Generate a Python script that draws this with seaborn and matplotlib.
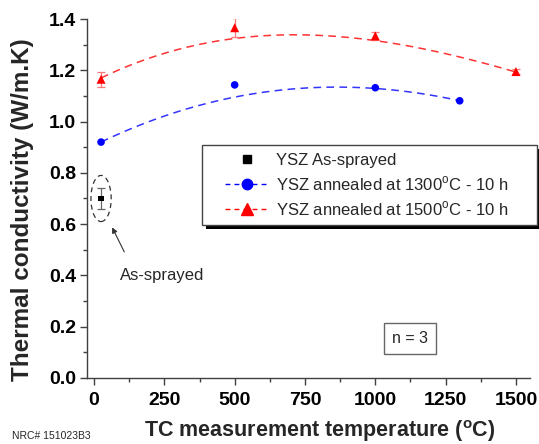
import numpy as np
import pandas as pd
import matplotlib
matplotlib.use("Agg")
import matplotlib.pyplot as plt
from matplotlib.lines import Line2D
from matplotlib.patches import Ellipse, Rectangle
import seaborn as sns

sns.set_theme(style="white")
plt.rcParams["font.family"] = ["Liberation Sans", "DejaVu Sans"]

# Measured thermal conductivity (W/m.K) vs. measurement temperature (°C)
as_sprayed_t = [25]
as_sprayed_k = [0.70]
as_sprayed_err = [0.04]

ann1300_t = [25, 500, 1000, 1300]
ann1300_k = [0.92, 1.143, 1.132, 1.081]

ann1500_t = [25, 500, 1000, 1500]
ann1500_k = [1.165, 1.366, 1.334, 1.195]
ann1500_err = [0.03, 0.037, 0.015, 0.01]

# trend curves (W/m.K) at selected temperatures
trend1300_t = [25, 250, 500, 750, 1000, 1250, 1300]
trend1300_k = [0.922, 1.016, 1.101, 1.130, 1.127, 1.094, 1.081]
trend1500_t = [25, 250, 500, 750, 1000, 1250, 1500]
trend1500_k = [1.172, 1.262, 1.325, 1.340, 1.318, 1.260, 1.195]

labels = ["YSZ As-sprayed",
          r"YSZ annealed at 1300$^{\mathregular{o}}$C - 10 h",
          r"YSZ annealed at 1500$^{\mathregular{o}}$C - 10 h"]

x_ticks = [0, 250, 500, 750, 1000, 1250, 1500]
y_ticks = [0.0, 0.2, 0.4, 0.6, 0.8, 1.0, 1.2, 1.4]

W, H = 539, 444
fig = plt.figure(figsize=(W / 100, H / 100), dpi=100)
ax = fig.add_axes([87 / W, 1 - 378 / H, (530 - 87) / W, (378 - 19) / H])


def smooth_trend(t, k):
    c = np.polyfit(t, k, 3)
    tt = np.linspace(min(t), max(t), 200)
    return pd.DataFrame({"t": tt, "k": np.polyval(c, tt)})


fit1300 = smooth_trend(trend1300_t, trend1300_k)
fit1500 = smooth_trend(trend1500_t, trend1500_k)
sns.lineplot(data=fit1300, x="t", y="k", ax=ax, color="#3333ff",
             linestyle=(0, (5, 3.5)), linewidth=1.1)
sns.lineplot(data=fit1500, x="t", y="k", ax=ax, color="#ff3333",
             linestyle=(0, (5, 3.5)), linewidth=1.1)

# error bars
ax.errorbar(ann1500_t, ann1500_k, yerr=ann1500_err, fmt="none",
            ecolor="#ff7777", elinewidth=0.9, capsize=3.2, capthick=0.9)
ax.errorbar(as_sprayed_t, as_sprayed_k, yerr=as_sprayed_err, fmt="none",
            ecolor="#666666", elinewidth=0.9, capsize=3.2, capthick=0.9)

# data points
sns.scatterplot(x=as_sprayed_t, y=as_sprayed_k, ax=ax, marker="s", s=18,
                color="black", edgecolor="none", zorder=5)
sns.scatterplot(x=ann1300_t, y=ann1300_k, ax=ax, marker="o", s=30,
                color="#0000ff", edgecolor="none", zorder=5)
sns.scatterplot(x=ann1500_t, y=ann1500_k, ax=ax, marker="^", s=42,
                color="#ff0000", edgecolor="none", zorder=5)

ax.set_xlim(-25, 1550)
ax.set_ylim(0, 1.4)
ax.set_xticks(x_ticks)
ax.set_yticks(y_ticks)
ax.set_xticklabels([str(v) for v in x_ticks])
ax.set_yticklabels([f"{v:.1f}" for v in y_ticks])
ax.set_xticks(np.arange(125, 1550, 250), minor=True)
ax.set_yticks(np.arange(0.1, 1.4, 0.2), minor=True)

for s in ["top", "right"]:
    ax.spines[s].set_visible(False)
for s in ["left", "bottom"]:
    ax.spines[s].set_color("#404040")
    ax.spines[s].set_linewidth(1.0)

ax.tick_params(axis="both", which="major", direction="out", length=4.8,
               width=1.0, color="#404040", labelsize=14,
               bottom=True, left=True, labelcolor="black")
ax.tick_params(axis="both", which="minor", direction="out", length=3,
               width=1.0, color="#404040", bottom=True, left=True)
ax.tick_params(axis="x", which="major", pad=5.5)
ax.tick_params(axis="y", which="major", pad=3)
for lbl in ax.get_xticklabels() + ax.get_yticklabels():
    lbl.set_fontweight("bold")

ax.set_xlabel("")
ax.set_ylabel("")
fig.text(320 / W, 1 - 437 / H,
         r"TC measurement temperature ($^{\mathregular{o}}$C)",
         ha="center", va="baseline", fontsize=15.5, fontweight="bold")
fig.text(23 / W, 1 - 210 / H, "Thermal conductivity (W/m.K)",
         ha="center", va="center", rotation=90, fontsize=17.5,
         fontweight="bold")

# dashed ellipse marking the as-sprayed point
ax.add_patch(Ellipse((25, 0.70), width=72, height=0.18, fill=False,
                     linestyle=(0, (4, 3)), edgecolor="#333333",
                     linewidth=0.9, zorder=4))
ax.annotate("", xy=(60, 0.597), xytext=(112, 0.482),
            arrowprops=dict(arrowstyle="-|>", color="#333333", lw=0.8,
                            mutation_scale=8))
ax.text(243, 0.40, "As-sprayed", ha="center", va="center", fontsize=12)

ax.text(1125, 0.155, "n = 3", ha="center", va="center", fontsize=11.5,
        bbox=dict(boxstyle="square,pad=0.5", facecolor="white",
                  edgecolor="#666666", linewidth=1.0))

fig.text(12 / W, 1 - 436 / H, "NRC# 151023B3", ha="left", va="center",
         fontsize=7.5)

# legend box with a solid drop shadow
bx0, bx1, by0, by1 = 202, 537, 145, 225
fig.patches.append(Rectangle(((bx0 + 4) / W, 1 - (by1 + 4) / H),
                             (bx1 - bx0) / W, (by1 - by0) / H,
                             transform=fig.transFigure, facecolor="black",
                             edgecolor="none", zorder=3))
fig.patches.append(Rectangle((bx0 / W, 1 - by1 / H),
                             (bx1 - bx0) / W, (by1 - by0) / H,
                             transform=fig.transFigure, facecolor="white",
                             edgecolor="#444444", linewidth=1.0, zorder=3.1))

handles = [
    Line2D([], [], color="black", marker="s", linestyle="none",
           markersize=5.5),
    Line2D([], [], color="#0000ff", marker="o", linestyle=(0, (3.5, 3)),
           markersize=7.5, linewidth=1.0),
    Line2D([], [], color="#ff0000", marker="^", linestyle=(0, (3.5, 3)),
           markersize=8, linewidth=1.0),
]
leg = fig.legend(handles, labels, loc="upper left",
                 bbox_to_anchor=(225 / W, 1 - 153 / H),
                 fontsize=12, frameon=False,
                 handlelength=2.6, handletextpad=0.45, borderpad=0,
                 labelspacing=0.38, borderaxespad=0)
leg.set_zorder(4)

fig.savefig("out.png", dpi=100, facecolor="white")
